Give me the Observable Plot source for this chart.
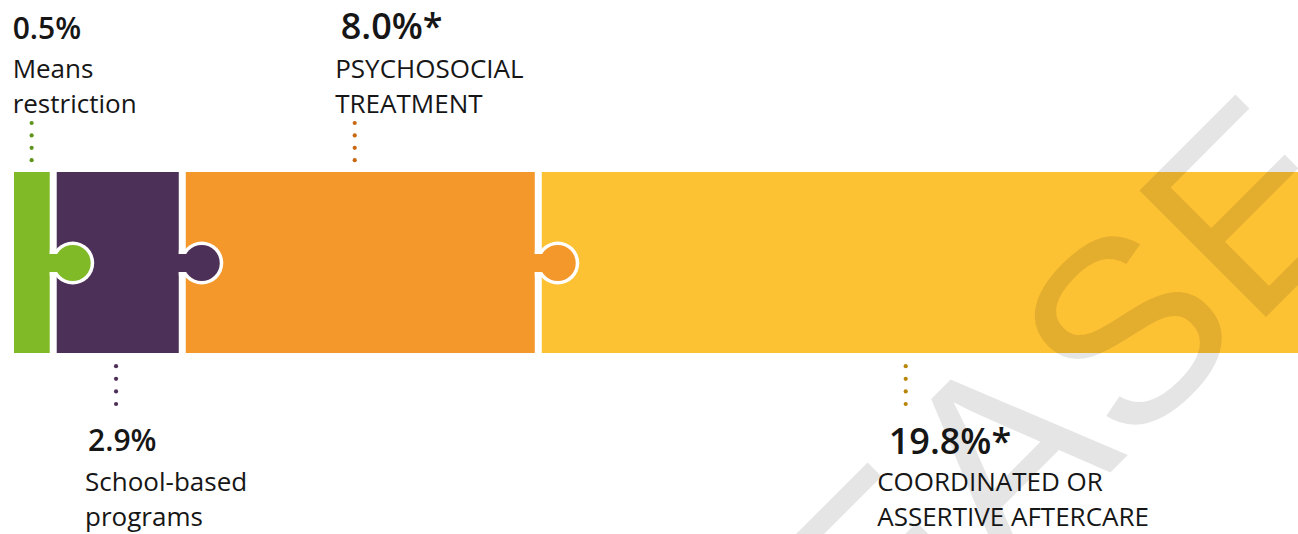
<!DOCTYPE html>
<html>
<head>
<meta charset="utf-8">
<script src="https://cdn.jsdelivr.net/npm/d3@7"></script>
<script src="https://cdn.jsdelivr.net/npm/@observablehq/plot@0.6"></script>
<style>
  html, body { margin: 0; padding: 0; background: #ffffff; overflow: hidden; }
  #chart svg { display: block; }
</style>
</head>
<body>
<div id="chart"></div>
<script>
// ---- data ----
const categories = ["Means restriction", "School-based programs", "Psychosocial treatment", "Coordinated or assertive aftercare"];
const values = [0.5, 2.9, 8.0, 19.8];
const significant = [false, false, true, true];
const labelText = ["Means\nrestriction", "School-based\nprograms", "PSYCHOSOCIAL\nTREATMENT", "COORDINATED OR\nASSERTIVE AFTERCARE"];
const labelSide = ["top", "bottom", "top", "bottom"];
const pieceColors = ["#80ba27", "#4d3058", "#f4982c", "#fdc134"];
const leaderColors = ["#5e9419", "#4d3058", "#c8680f", "#b8860b"];
const watermark = "RELEASE";

// ---- layout / style ----
const W = 1298, H = 534;
const barTop = 172, barBottom = 353;
const x0 = 10.5, pxPerUnit = 44.5, minShown = 0.96, gap = 3.5;
const knobR = 18, knobDx = 19, outline = 3.5, neck = 18;
const pctDx = [-19, -28, -14, -17];     // pixel shift of the percentage label from its leader
const descDx = [-19, -31, -19.5, -28.5]; // pixel shift of the description from its leader

let acc = 0;
const pieces = values.map((v, i) => {
  const w = Math.max(v, minShown);
  const p = {
    i, category: categories[i], value: v, x1: acc, x2: acc + w,
    color: pieceColors[i], leader: leaderColors[i], side: labelSide[i],
    star: significant[i],
    pct: d3.format(".1f")(v) + "%" + (significant[i] ? "*" : ""),
    desc: labelText[i]
  };
  acc += w;
  return p;
});
const total = acc;
const visibleEnd = (W - x0) / pxPerUnit;
pieces.forEach(p => { p.anchor = p.x1 + 0.483 * (Math.min(p.x2, visibleEnd) - p.x1); });
const knobs = pieces.slice(0, -1);
const topP = pieces.filter(p => p.side === "top");
const botP = pieces.filter(p => p.side === "bottom");

const font = "'Open Sans', 'Noto Sans', sans-serif";
const ink = "#161616";

const leaderMarks = [];
for (let j = 0; j < 4; ++j) {
  leaderMarks.push(Plot.dot(topP, {x: "anchor", y: () => 1, dy: -(12.3 + 12.4 * j), r: 2.1, fill: "leader"}));
  leaderMarks.push(Plot.dot(botP, {x: "anchor", y: () => 0, dy: 12.7 + 12.6 * j, r: 2.1, fill: "leader"}));
}

const pctMark = (data, y, dy) => [
  Plot.text(data.filter(d => !d.star), {x: d => d.anchor + pctDx[d.i] / pxPerUnit, y: () => y, dy: dy, text: "pct",
    textAnchor: "start", lineAnchor: "bottom", fontSize: 30, fontWeight: 600, fontFamily: font, fill: ink}),
  Plot.text(data.filter(d => d.star), {x: d => d.anchor + pctDx[d.i] / pxPerUnit, y: () => y, dy: dy + (y === 0 ? 3 : 0), text: "pct",
    textAnchor: "start", lineAnchor: "bottom", fontSize: 36, fontWeight: 600, fontFamily: font, fill: ink})
];

const chart = Plot.plot({
  width: W,
  height: H,
  margin: 0,
  style: {background: "#ffffff", overflow: "hidden"},
  x: {domain: [0, total], range: [x0, x0 + total * pxPerUnit], axis: null},
  y: {domain: [0, 1], range: [barBottom, barTop], axis: null},
  color: {type: "identity"},
  marks: [
    Plot.rect(pieces, {x1: "x1", x2: "x2", y1: () => 0, y2: () => 1, fill: "color", insetLeft: gap, insetRight: gap}),
    // knob outlines (white gap around each tab)
    Plot.ruleY(knobs, {y: () => 0.5, x1: "x2", x2: "x2", insetLeft: -gap, insetRight: -knobDx, stroke: "white", strokeWidth: neck + 2 * outline}),
    Plot.dot(knobs, {x: "x2", y: () => 0.5, dx: knobDx, r: knobR + outline, fill: "white"}),
    // knob fills
    Plot.ruleY(knobs, {y: () => 0.5, x1: "x2", x2: "x2", insetLeft: -gap - 1, insetRight: -knobDx, stroke: "color", strokeWidth: neck}),
    Plot.dot(knobs, {x: "x2", y: () => 0.5, dx: knobDx, r: knobR, fill: "color"}),
    // watermark
    Plot.text([watermark], {text: d => d, frameAnchor: "top-left", dx: 1373, dy: 209, rotate: -45,
      textAnchor: "end", lineAnchor: "bottom", fontSize: 260, fontFamily: "'Liberation Sans', Arial, sans-serif",
      fill: "black", fillOpacity: 0.1}),
    ...leaderMarks,
    ...pctMark(topP, 1, -134),
    ...pctMark(botP, 0, 97),
    Plot.text(topP, {x: d => d.anchor + descDx[d.i] / pxPerUnit, y: () => 1, dy: -60, text: "desc",
      textAnchor: "start", lineAnchor: "bottom", lineHeight: 35 / 26, fontSize: 26, fontFamily: font, fill: ink}),
    Plot.text(botP, {x: d => d.anchor + descDx[d.i] / pxPerUnit, y: () => 0, dy: 172.5, text: "desc",
      textAnchor: "start", lineAnchor: "bottom", lineHeight: 35 / 26, fontSize: 26, fontFamily: font, fill: ink})
  ]
});
document.getElementById("chart").appendChild(chart);
</script>
</body>
</html>
